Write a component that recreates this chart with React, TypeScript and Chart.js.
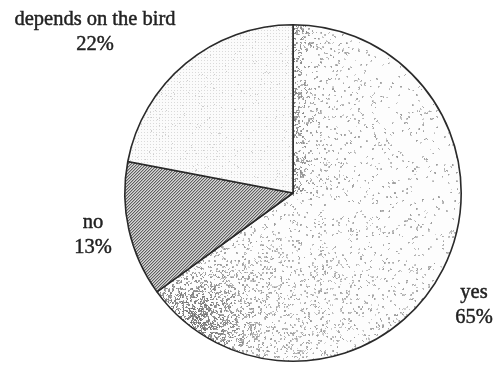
import { useEffect, useRef } from 'react';
import { Chart, registerables } from 'chart.js';

Chart.register(...registerables);

// Answers and their shares (percent)
const categories = ['yes', 'no', 'depends on the bird'];
const shares = [65, 13, 22];

const W = 497;
const H = 367;

// Where each answer's caption sits (text centre x, first baseline y)
const captionAnchors = [
  { x: 474, y: 298 },
  { x: 93, y: 228 },
  { x: 95, y: 25 },
];

function hash(x: number, y: number, seed: number): number {
  let h = (Math.imul(x, 374761393) + Math.imul(y, 668265263) + Math.imul(seed, 982451653)) | 0;
  h = Math.imul(h ^ (h >>> 13), 1274126177);
  h ^= h >>> 16;
  return (h >>> 0) / 4294967296;
}

// Builds a canvas-sized texture from a per-pixel grey function
function texture(shade: (x: number, y: number) => number): CanvasPattern | string {
  const c = document.createElement('canvas');
  c.width = W;
  c.height = H;
  const g = c.getContext('2d');
  if (!g) return '#ddd';
  const img = g.createImageData(W, H);
  for (let y = 0; y < H; y++) {
    for (let x = 0; x < W; x++) {
      const v = shade(x, y);
      const i = (y * W + x) * 4;
      img.data[i] = v;
      img.data[i + 1] = v;
      img.data[i + 2] = v;
      img.data[i + 3] = 255;
    }
  }
  g.putImageData(img, 0, 0);
  return g.createPattern(c, 'no-repeat') || '#ddd';
}

const gauss = (x: number, y: number, cx: number, cy: number, s: number) =>
  Math.exp(-((x - cx) ** 2 + (y - cy) ** 2) / (2 * s * s));

// Speckled grey stipple, heavier toward the lower left and along the top radius
function speckleShade(x: number, y: number): number {
  let d = 0.06;
  let dark = 0;
  if (y < 196 && x >= 293) {
    const t = Math.exp(-(x - 293) / 14);
    d += 0.35 * t + 0.08 * Math.exp(-(x - 293) / 55);
    dark += 0.5 * t;
  }
  const g1 = gauss(x, y, 190, 325, 36);
  d += 0.55 * g1;
  dark += 0.7 * g1;
  d += 0.16 * gauss(x, y, 250, 300, 75);
  d += 0.07 * Math.min(1, Math.max(0, (y - 200) / 160));
  const block = hash(x >> 1, y >> 1, 11);
  if (block < d && hash(x, y, 5) < 0.7) {
    const base = 215 - 80 * Math.min(1, dark);
    return Math.max(60, Math.floor(base - hash(x, y, 17) * 60));
  }
  return 253;
}

// Diagonal hatching
function hatchShade(x: number, y: number): number {
  const k = (x + y) % 3;
  if (k === 0) return 95;
  if (k === 1) return 175;
  return 215;
}

// Faint dotted screen
function dotShade(x: number, y: number): number {
  if (x % 3 === 0 && y % 3 === 0) return 218;
  if (hash(x, y, 29) < 0.015) return 205;
  return 251;
}

const captionPlugin = {
  id: 'captions',
  afterDraw(chart: Chart) {
    const { ctx } = chart;
    ctx.save();
    ctx.fillStyle = '#222';
    ctx.strokeStyle = '#222';
    ctx.lineWidth = 0.45;
    ctx.font = '20.5px "Liberation Serif", "Times New Roman", serif';
    ctx.textAlign = 'center';
    ctx.textBaseline = 'alphabetic';
    categories.forEach((name, i) => {
      const a = captionAnchors[i];
      const pct = `${shares[i]}%`;
      ctx.fillText(name, a.x, a.y);
      ctx.strokeText(name, a.x, a.y);
      ctx.fillText(pct, a.x, a.y + 25);
      ctx.strokeText(pct, a.x, a.y + 25);
    });
    ctx.restore();
  },
};

export default function App() {
  const ref = useRef<HTMLCanvasElement | null>(null);

  useEffect(() => {
    if (!ref.current) return;
    const fills = [texture(speckleShade), texture(hatchShade), texture(dotShade)];
    const chart = new Chart(ref.current, {
      type: 'pie',
      data: {
        labels: categories,
        datasets: [
          {
            data: shares,
            backgroundColor: fills as any,
            hoverBackgroundColor: fills as any,
            borderColor: '#2a2a2a',
            borderWidth: 1.6,
          },
        ],
      },
      options: {
        responsive: false,
        animation: false,
        events: [],
        layout: { padding: { left: 124, right: 35, top: 24, bottom: 5 } },
        plugins: {
          legend: { display: false },
          tooltip: { enabled: false },
        },
      },
      plugins: [captionPlugin],
    });
    return () => chart.destroy();
  }, []);

  return (
    <div style={{ position: 'absolute', left: 0, top: 0, width: W, height: H, background: '#fff' }}>
      <canvas ref={ref} width={W} height={H} />
    </div>
  );
}
